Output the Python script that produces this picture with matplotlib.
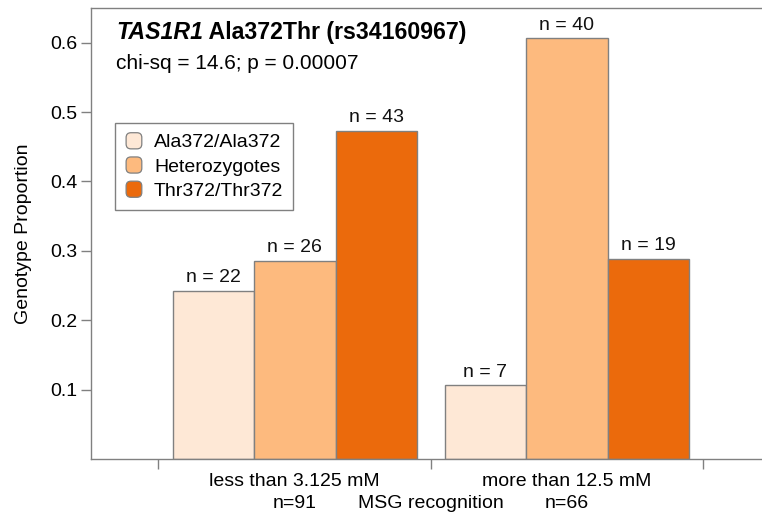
import matplotlib
matplotlib.use("Agg")
import matplotlib.pyplot as plt
import matplotlib.transforms as mtransforms
from matplotlib.patches import Patch, FancyBboxPatch
from matplotlib.legend_handler import HandlerPatch

plt.rcParams['font.family'] = ['Liberation Sans', 'DejaVu Sans']

genotypes = ["Ala372/Ala372", "Heterozygotes", "Thr372/Thr372"]
groups = ["less than 3.125 mM", "more than 12.5 mM"]
group_totals = [91, 66]
counts = [
    [22, 26, 43],   # less than 3.125 mM
    [7, 40, 19],    # more than 12.5 mM
]
colors = ["#FEE8D6", "#FDBA7E", "#EB6A0C"]
yticks = [0.1, 0.2, 0.3, 0.4, 0.5, 0.6]

title_italic = "TAS1R1"
title_rest = " Ala372Thr (rs34160967)"
subtitle = "chi-sq = 14.6; p = 0.00007"
ylabel = "Genotype Proportion"
xlabel = "MSG recognition"

group_starts = [1.0, 4.34]
axis_ticks = [0.82, 4.17, 7.51]
edge = "#808080"
fs = 14


class RoundHandler(HandlerPatch):
    def create_artists(self, legend, orig_handle, xdescent, ydescent,
                       width, height, fontsize, trans):
        p = FancyBboxPatch((-xdescent + 1, -ydescent), width - 2, height,
                           boxstyle="round,pad=0,rounding_size=3.5",
                           facecolor=orig_handle.get_facecolor(),
                           edgecolor=edge, linewidth=0.9, transform=trans)
        return [p]


fig = plt.figure(figsize=(7.62, 5.19), dpi=100)
ax = fig.add_axes([91 / 762, 60 / 519, 671 / 762, 451 / 519])

for g, (start, row, total) in enumerate(zip(group_starts, counts, group_totals)):
    for i, n in enumerate(row):
        x = start + i + 0.5
        prop = n / total
        ax.bar(x, prop, width=1.0, color=colors[i], edgecolor=edge, linewidth=1.0, zorder=2)
        ax.annotate(f"n = {n}", (x, prop), xytext=(0, 3.5), textcoords="offset points",
                    ha="center", va="bottom", fontsize=fs, color="#111111")

ax.set_xlim(0, 671 / 81.5)
ax.set_ylim(0, 0.65)

ax.set_xticks(axis_ticks)
ax.set_xticklabels([])
ax.tick_params(axis="x", which="major", length=7, color=edge, width=1)
centers = [s + 1.5 for s in group_starts]
ax.set_xticks(centers, minor=True)
ax.set_xticklabels(groups, minor=True, fontsize=fs)
ax.tick_params(axis="x", which="minor", length=0, pad=10)

# group sizes on a second line under the group names
trans = mtransforms.blended_transform_factory(ax.transData, fig.transFigure)
for c, t in zip(centers, group_totals):
    ax.text(c, 1 - 503 / 519, f"n={t}", transform=trans, ha="center", va="center",
            fontsize=fs, clip_on=False)

ax.set_yticks(yticks)
ax.set_yticklabels([f"{v:.1f}" for v in yticks], fontsize=fs)
ax.tick_params(axis="y", length=7, color=edge, width=1, pad=3)

for s in ["left", "top", "bottom"]:
    ax.spines[s].set_color(edge)
    ax.spines[s].set_linewidth(1.0)
ax.spines["right"].set_visible(False)

ax.set_ylabel(ylabel, fontsize=fs, labelpad=13)
fig.text(431 / 762, 1 - 504 / 519, xlabel, ha="center", va="center", fontsize=fs)

t1 = ax.text(25 / 671, 0.921, title_italic, transform=ax.transAxes, fontsize=16.7,
             fontweight="bold", fontstyle="italic", va="bottom", ha="left")
ax.annotate(title_rest, xy=(1, 0), xycoords=t1, fontsize=16.7, fontweight="bold",
            va="bottom", ha="left")
ax.text(25 / 671, 0.855, subtitle, transform=ax.transAxes, fontsize=15,
        va="bottom", ha="left")

handles = [Patch(facecolor=c) for c in colors]
leg = ax.legend(handles, genotypes, loc="upper left", bbox_to_anchor=(24 / 671, 336 / 451),
                borderaxespad=0, fontsize=fs, fancybox=False, framealpha=1,
                edgecolor=edge, handlelength=0.95, handleheight=0.9, handletextpad=0.55,
                labelspacing=0.28, borderpad=0.5,
                handler_map={Patch: RoundHandler()})
leg.get_frame().set_linewidth(1.0)

fig.savefig("out.png", dpi=100)
